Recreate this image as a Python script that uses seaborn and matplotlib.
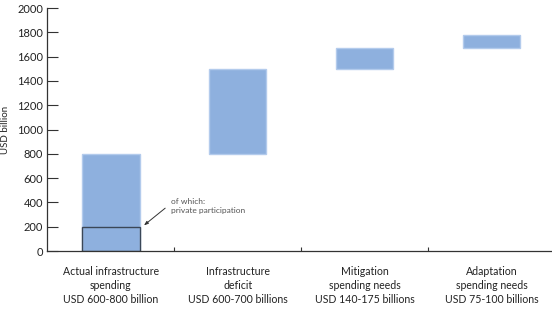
import pandas as pd
import matplotlib
matplotlib.use("Agg")
import matplotlib.pyplot as plt
import seaborn as sns

# data
categories = [
    "Actual infrastructure\nspending\nUSD 600-800 billion",
    "Infrastructure\ndeficit\nUSD 600-700 billions",
    "Mitigation\nspending needs\nUSD 140-175 billions",
    "Adaptation\nspending needs\nUSD 75-100 billions",
]
bottoms = [0, 800, 1500, 1675]
tops = [800, 1500, 1675, 1775]
private_part = [200]
yticks = list(range(0, 2001, 200))

df = pd.DataFrame({"cat": categories, "bottom": bottoms, "top": tops})
df["height"] = df["top"] - df["bottom"]

sns.set_style("white")
plt.rcParams["font.family"] = ["Lato", "DejaVu Sans"]

fig = plt.figure(figsize=(5.52, 3.10), dpi=100)
ax = fig.add_axes([0.086, 0.19, 0.92, 0.784])

sns.barplot(data=df, x="cat", y="height", order=categories, bottom=df["bottom"].tolist(),
            color="#8eb0de", saturation=1, width=0.45, edgecolor="#b3cbec", linewidth=1, ax=ax)

# private participation share of the first bar
priv = pd.DataFrame({"cat": categories[:1], "height": private_part})
sns.barplot(data=priv, x="cat", y="height", order=categories, fill=False,
            edgecolor="#3b4757", linewidth=1, width=0.45, ax=ax)

ax.annotate("of which:\nprivate participation", xy=(0.26, 212), xytext=(0.47, 370),
            fontsize=6, color="#555555", va="center", ha="left", linespacing=1.3,
            arrowprops=dict(arrowstyle="-|>,head_length=0.4,head_width=0.15", color="#333333",
                            lw=0.7, shrinkA=2, shrinkB=0, relpos=(0, 0.65)))

ax.set_xlim(-0.5, 3.5)
ax.set_ylim(0, 2000)
ax.set_yticks(yticks)
ax.set_xticks([0.5, 1.5, 2.5], minor=True)
ax.tick_params(axis="y", direction="in", length=8, width=0.8, color="#333333",
               labelsize=8, pad=3, left=True)
ax.tick_params(axis="x", which="major", length=0, labelsize=7.6, pad=11)
ax.tick_params(axis="x", which="minor", direction="in", length=3, width=0.8,
               color="#333333", bottom=True)
for lab in ax.get_xticklabels():
    lab.set_linespacing(1.3)
    lab.set_color("#222222")
for lab in ax.get_yticklabels():
    lab.set_color("#222222")

ax.set_xlabel("")
ax.set_ylabel("USD billion", fontsize=7, labelpad=5, color="#222222")
for s in ["top", "right"]:
    ax.spines[s].set_visible(False)
for s in ["left", "bottom"]:
    ax.spines[s].set_color("#333333")
    ax.spines[s].set_linewidth(0.9)

fig.savefig("out.png", dpi=100)
